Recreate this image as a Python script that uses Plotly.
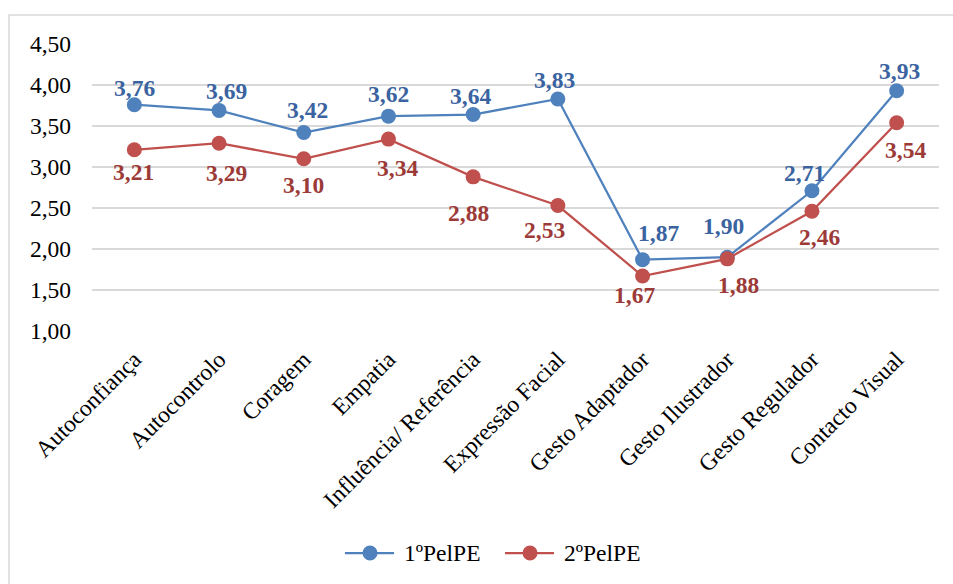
import plotly.graph_objects as go

# Competências avaliadas (eixo das categorias)
categorias = [
    "Autoconfiança", "Autocontrolo", "Coragem", "Empatia",
    "Influência/ Referência", "Expressão Facial", "Gesto Adaptador",
    "Gesto Ilustrador", "Gesto Regulador", "Contacto Visual",
]

# Médias por momento de avaliação
pelpe_1 = [3.76, 3.69, 3.42, 3.62, 3.64, 3.83, 1.87, 1.90, 2.71, 3.93]
pelpe_2 = [3.21, 3.29, 3.10, 3.34, 2.88, 2.53, 1.67, 1.88, 2.46, 3.54]

nomes = ["1ºPelPE", "2ºPelPE"]
y_ticks = [1.0, 1.5, 2.0, 2.5, 3.0, 3.5, 4.0, 4.5]

# Deslocamento (px) de cada rótulo de valor em relação ao seu ponto
desl_1 = [(0, 17), (7, 19), (4, 23), (0, 22), (-3, 19), (-3, 19),
          (16, 27), (-4, 31), (-7, 18), (3, 20)]
desl_2 = [(-1, -22), (7, -30), (0, -26), (9, -29), (-5, -36), (-13, -24),
          (-8, -19), (11, -26), (8, -26), (9, -27)]

FONTE = "Liberation Serif"
TAM = 23.5
AZUL, VERMELHO = "#4F81BD", "#C0504D"
AZUL_TXT, VERMELHO_TXT = "#3A63A0", "#9C3A38"

W, H = 953, 584
M_L, M_R, M_T, M_B = 92, 14, 44, 253
PW, PH = W - M_L - M_R, H - M_T - M_B


def px_x(x):
    """Pixel horizontal -> coordenada 'paper'."""
    return (x - M_L) / PW


def px_y(y):
    """Pixel vertical -> coordenada 'paper'."""
    return (H - M_B - y) / PH


fig = go.Figure()
for nome, valores, cor in [(nomes[0], pelpe_1, AZUL), (nomes[1], pelpe_2, VERMELHO)]:
    fig.add_trace(go.Scatter(
        x=categorias, y=valores, name=nome, mode="lines+markers",
        line=dict(color=cor, width=2.25),
        marker=dict(color=cor, size=15),
        showlegend=False,
    ))

anot = []
for valores, desl, cor in [(pelpe_1, desl_1, AZUL_TXT), (pelpe_2, desl_2, VERMELHO_TXT)]:
    for cat, v, (dx, dy) in zip(categorias, valores, desl):
        anot.append(dict(
            x=cat, y=v, text=f"{v:.2f}".replace(".", ","), showarrow=False,
            xanchor="center", yanchor="middle", xshift=dx, yshift=dy,
            font=dict(family=FONTE, size=TAM, color=cor, weight="bold"),
        ))

# Moldura da área do gráfico
formas = [dict(
    type="rect", xref="paper", yref="paper",
    x0=px_x(9), x1=px_x(1000), y0=px_y(700), y1=px_y(15),
    line=dict(color="#D9D9D9", width=1.5), layer="below",
)]

# Legenda: segmento de linha com marcador e nome da série
LEG_Y = 553
for nome, cor, x_ini in [(nomes[0], AZUL, 345), (nomes[1], VERMELHO, 505)]:
    formas.append(dict(
        type="line", xref="paper", yref="paper",
        x0=px_x(x_ini), x1=px_x(x_ini + 49), y0=px_y(LEG_Y), y1=px_y(LEG_Y),
        line=dict(color=cor, width=2.25),
    ))
    formas.append(dict(
        type="circle", xref="paper", yref="paper",
        xsizemode="pixel", ysizemode="pixel",
        xanchor=px_x(x_ini + 25), yanchor=px_y(LEG_Y),
        x0=-7.5, x1=7.5, y0=-7.5, y1=7.5,
        fillcolor=cor, line=dict(color=cor, width=0),
    ))
    anot.append(dict(
        xref="paper", yref="paper", x=px_x(x_ini + 57), y=px_y(LEG_Y),
        text=nome, showarrow=False, xanchor="left", yanchor="middle",
        font=dict(family=FONTE, size=TAM, color="black"),
    ))

fig.update_layout(
    width=W, height=H,
    margin=dict(l=M_L, r=M_R, t=M_T, b=M_B),
    paper_bgcolor="white", plot_bgcolor="white",
    separators=",.",
    font=dict(family=FONTE, size=TAM, color="black"),
    showlegend=False,
    annotations=anot,
    shapes=formas,
)

fig.update_xaxes(
    type="category", range=[-0.5, len(categorias) - 0.5],
    tickangle=-45, showgrid=False, showline=False, ticks="",
    ticklabelstandoff=9,
    tickfont=dict(family=FONTE, size=TAM, color="black"),
)
fig.update_yaxes(
    range=[1.0, 4.5], tickvals=y_ticks, tickformat=".2f",
    showgrid=True, gridcolor="#D9D9D9", gridwidth=1.5,
    zeroline=False, showline=False, ticks="",
    ticklabelstandoff=20,
    tickfont=dict(family=FONTE, size=TAM, color="black"),
)

fig.write_html("out.html")
